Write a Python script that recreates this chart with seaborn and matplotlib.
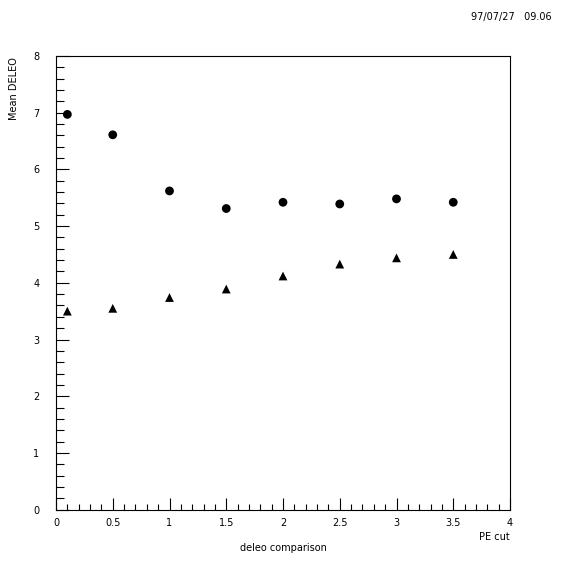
import numpy as np
import pandas as pd
import seaborn as sns
from matplotlib import pyplot as plt
from matplotlib.ticker import MultipleLocator

# data
pe_cut = [0.1, 0.5, 1.0, 1.5, 2.0, 2.5, 3.0, 3.5]
mean_circles = [6.97, 6.61, 5.62, 5.31, 5.42, 5.39, 5.48, 5.42]
mean_triangles = [3.50, 3.55, 3.74, 3.89, 4.12, 4.33, 4.44, 4.50]

data = pd.DataFrame({
    'pe': pe_cut * 2,
    'mean': mean_circles + mean_triangles,
    'set': ['circle'] * len(pe_cut) + ['triangle'] * len(pe_cut),
})

sns.set_style("white")
plt.rcParams['font.family'] = ['DejaVu Sans']
plt.rcParams['text.color'] = 'black'
plt.rcParams['xtick.color'] = 'black'
plt.rcParams['ytick.color'] = 'black'

fig = plt.figure(figsize=(5.67, 5.67), dpi=100)
ax = fig.add_axes([56 / 567, 1 - 509.6 / 567, 454 / 567, 453.6 / 567])

sns.scatterplot(data=data, x='pe', y='mean', style='set',
                markers={'circle': 'o', 'triangle': '^'},
                color='black', s=40, linewidth=0, legend=False, ax=ax)

ax.set_xlim(0, 4)
ax.set_ylim(0, 8)
ax.xaxis.set_minor_locator(MultipleLocator(0.1))
ax.yaxis.set_minor_locator(MultipleLocator(0.2))
ax.set_xticks([0, 0.5, 1, 1.5, 2, 2.5, 3, 3.5, 4])
ax.set_xticklabels(['0', '0.5', '1', '1.5', '2', '2.5', '3', '3.5', '4'])
ax.set_yticks(range(9))
ax.tick_params(which='both', bottom=True, left=True, top=False, right=False,
               direction='in', width=0.8, color='black', labelcolor='black')
ax.tick_params(which='major', labelsize=7)
ax.tick_params(axis='x', which='major', length=9, pad=6)
ax.tick_params(axis='y', which='major', length=9, pad=12)
ax.tick_params(axis='x', which='minor', length=4)
ax.tick_params(axis='y', which='minor', length=6)
for sp in ax.spines.values():
    sp.set_color('black')
    sp.set_linewidth(0.8)

ax.set_xlabel('')
ax.set_ylabel('')
fig.text(283 / 567, 1 - 548 / 567, 'deleo comparison', ha='center', va='center', fontsize=7)
fig.text(510 / 567, 1 - 537 / 567, 'PE cut', ha='right', va='center', fontsize=7)
fig.text(14 / 567, 1 - 57 / 567, 'Mean DELEO', ha='center', va='top', rotation=90, fontsize=7)
fig.text(552 / 567, 1 - 17 / 567, '97/07/27   09.06', ha='right', va='center', fontsize=7)

plt.savefig("out.png", dpi=100)
